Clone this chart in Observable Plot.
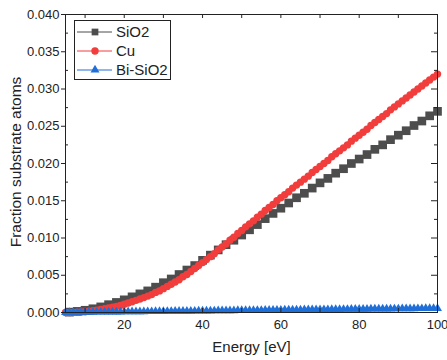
<!DOCTYPE html>
<html>
<head>
<meta charset="utf-8">
<script src="https://cdn.jsdelivr.net/npm/d3@7"></script>
<script src="https://cdn.jsdelivr.net/npm/@observablehq/plot@0.6"></script>
<style>
  html, body { margin: 0; padding: 0; background: #fff; }
  #chart { width: 447px; height: 360px; }
  #chart svg text { font-family: Arial, "Liberation Sans", Helvetica, sans-serif; }
</style>
</head>
<body>
<div id="chart"></div>
<script>
// Sputtering yield of substrate atoms vs. ion energy
const seriesNames = ["SiO2", "Cu", "Bi-SiO2"];
const seriesColors = ["#4d4d4d", "#f23d3d", "#1f6fd9"];

// SiO2: sampled every 2 eV
const energySiO2 = [6, 8, 10, 12, 14, 16, 18, 20, 22, 24, 26, 28, 30, 32, 34, 36, 38, 40,
  42, 44, 46, 48, 50, 52, 54, 56, 58, 60, 62, 64, 66, 68, 70, 72, 74, 76, 78, 80,
  82, 84, 86, 88, 90, 92, 94, 96, 98, 100];
const fracSiO2 = [0.00005, 0.00015, 0.0003, 0.0005, 0.00075, 0.00105, 0.00135, 0.0017,
  0.0021, 0.0025, 0.0029, 0.0034, 0.0040, 0.0045, 0.0051, 0.0057, 0.0063, 0.0070,
  0.0077, 0.0084, 0.0091, 0.0097, 0.0104, 0.0111, 0.0118, 0.0126, 0.0133, 0.0140,
  0.0147, 0.0154, 0.0160, 0.0167, 0.0174, 0.0180, 0.0187, 0.0193, 0.0200, 0.0206,
  0.0212, 0.0219, 0.0225, 0.0232, 0.0238, 0.0244, 0.0251, 0.0257, 0.0264, 0.0270];

// Cu and Bi-SiO2: sampled every 1 eV
const energyFine = [5, 6, 7, 8, 9, 10, 11, 12, 13, 14, 15, 16, 17, 18, 19, 20, 21, 22, 23, 24,
  25, 26, 27, 28, 29, 30, 31, 32, 33, 34, 35, 36, 37, 38, 39, 40, 41, 42, 43, 44,
  45, 46, 47, 48, 49, 50, 51, 52, 53, 54, 55, 56, 57, 58, 59, 60, 61, 62, 63, 64,
  65, 66, 67, 68, 69, 70, 71, 72, 73, 74, 75, 76, 77, 78, 79, 80, 81, 82, 83, 84,
  85, 86, 87, 88, 89, 90, 91, 92, 93, 94, 95, 96, 97, 98, 99, 100];
const fracCu = [0.0000, 0.0000, 0.00002, 0.00004, 0.00007, 0.0001, 0.00016, 0.00024, 0.00032, 0.00041,
  0.0005, 0.0006, 0.0007, 0.0008, 0.00095, 0.0011, 0.00127, 0.00145, 0.00163, 0.00181,
  0.0020, 0.0022, 0.0024, 0.0027, 0.0029, 0.0032, 0.0035, 0.0038, 0.0041, 0.0044,
  0.0048, 0.0051, 0.0055, 0.0059, 0.0063, 0.0067, 0.0071, 0.0075, 0.0079, 0.0084,
  0.0088, 0.0092, 0.0097, 0.0101, 0.0106, 0.0110, 0.0115, 0.0119, 0.0123, 0.0128,
  0.0132, 0.0137, 0.0141, 0.0145, 0.0150, 0.0154, 0.0158, 0.0162, 0.0167, 0.0171,
  0.0175, 0.0179, 0.0183, 0.0188, 0.0192, 0.0196, 0.0200, 0.0204, 0.0209, 0.0213,
  0.0217, 0.0221, 0.0225, 0.0230, 0.0234, 0.0238, 0.0242, 0.0246, 0.0251, 0.0255,
  0.0259, 0.0263, 0.0267, 0.0272, 0.0276, 0.0280, 0.0284, 0.0288, 0.0292, 0.0296,
  0.0300, 0.0304, 0.0308, 0.0312, 0.0316, 0.0320];
const fracBiSiO2 = [0.00002, 0.00002, 0.00003, 0.00003, 0.00004, 0.00004, 0.00005, 0.00005, 0.00006, 0.00006,
  0.00007, 0.00007, 0.00008, 0.00008, 0.00009, 0.00010, 0.00010, 0.00011, 0.00011, 0.00012,
  0.00012, 0.00013, 0.00013, 0.00014, 0.00015, 0.00015, 0.00016, 0.00016, 0.00017, 0.00018,
  0.00018, 0.00019, 0.00019, 0.00020, 0.00021, 0.00021, 0.00022, 0.00022, 0.00023, 0.00024,
  0.00024, 0.00025, 0.00025, 0.00026, 0.00027, 0.00027, 0.00028, 0.00028, 0.00029, 0.00030,
  0.00030, 0.00031, 0.00031, 0.00032, 0.00033, 0.00033, 0.00034, 0.00034, 0.00035, 0.00036,
  0.00036, 0.00037, 0.00037, 0.00038, 0.00039, 0.00039, 0.00040, 0.00040, 0.00041, 0.00042,
  0.00042, 0.00043, 0.00043, 0.00044, 0.00045, 0.00045, 0.00046, 0.00046, 0.00047, 0.00047,
  0.00048, 0.00048, 0.00049, 0.00049, 0.00050, 0.00050, 0.00051, 0.00051, 0.00052, 0.00052,
  0.00053, 0.00053, 0.00054, 0.00054, 0.00055, 0.00055];

// Axis ticks
const xTicks = [20, 40, 60, 80, 100];
const xTicksAll = [10, 20, 30, 40, 50, 60, 70, 80, 90, 100];
const yMajor = [0, 0.005, 0.010, 0.015, 0.020, 0.025, 0.030, 0.035, 0.040];
const yMinor = [0.0025, 0.0075, 0.0125, 0.0175, 0.0225, 0.0275, 0.0325, 0.0375];

const xLabel = "Energy [eV]";
const yLabel = "Fraction substrate atoms";

const sio2 = energySiO2.map((e, i) => ({e, v: fracSiO2[i]}));
const cu = energyFine.map((e, i) => ({e, v: fracCu[i]}));
const bisio2 = energyFine.map((e, i) => ({e, v: fracBiSiO2[i]}));

const W = 447, H = 360, mL = 65, mR = 10, mT = 14, mB = 48;
const frameW = W - mL - mR, frameH = H - mT - mB;
const font = "Arial, Liberation Sans, Helvetica, sans-serif";
const ink = "#222";

const symbols = ["square", "circle", "triangle"];
const radii = [4.9, 3.7, 3.3];          // plot markers
const legendRadii = [3.8, 3.7, 3.3];    // legend markers

const plot = Plot.plot({
  width: W,
  height: H,
  marginLeft: mL,
  marginRight: mR,
  marginTop: mT,
  marginBottom: mB,
  style: {fontFamily: font, fontSize: "13px", color: ink, background: "#fff", overflow: "visible"},
  x: {domain: [5, 100]},
  y: {domain: [0, 0.04]},
  marks: [
    // series: SiO2 first, then Cu, Bi-SiO2 on top
    Plot.line(sio2, {x: "e", y: "v", stroke: seriesColors[0], strokeWidth: 1}),
    Plot.dot(sio2, {x: "e", y: "v", symbol: symbols[0], r: radii[0], fill: seriesColors[0], stroke: "none"}),
    Plot.line(cu, {x: "e", y: "v", stroke: seriesColors[1], strokeWidth: 1}),
    Plot.dot(cu, {x: "e", y: "v", symbol: symbols[1], r: radii[1], fill: seriesColors[1], stroke: "none"}),
    Plot.line(bisio2, {x: "e", y: "v", stroke: seriesColors[2], strokeWidth: 1}),
    Plot.dot(bisio2, {x: "e", y: "v", symbol: symbols[2], r: radii[2], fill: seriesColors[2], stroke: "none"}),

    // left axis: major ticks outward with labels, minor ticks inward
    Plot.axisY({anchor: "left", ticks: yMajor, tickFormat: d3.format(".3f"), tickSize: 4, tickPadding: 2, label: null, stroke: ink, fill: ink, fontSize: 13, fontFamily: font}),
    Plot.ruleY(yMinor, {y: d => d, insetRight: frameW - 3, stroke: ink}),
    // right axis: inward ticks
    Plot.ruleY(yMajor, {y: d => d, insetLeft: frameW - 6, stroke: ink}),
    Plot.ruleY(yMinor, {y: d => d, insetLeft: frameW - 3, stroke: ink}),
    // bottom axis labels, inward ticks on bottom and top
    Plot.axisX({anchor: "bottom", ticks: xTicks, tickSize: 0, tickPadding: 7, label: null, fill: ink, fontSize: 13, fontFamily: font}),
    Plot.ruleX(xTicksAll, {x: d => d, insetTop: frameH - 4, stroke: ink}),
    Plot.ruleX(xTicksAll, {x: d => d, insetBottom: frameH - 4, stroke: ink}),

    Plot.frame({stroke: ink, strokeWidth: 1}),

    // axis titles
    Plot.text([xLabel], {frameAnchor: "bottom", dy: 39, fontSize: 15, fill: ink, fontFamily: font, textAnchor: "middle"}),
    Plot.text([yLabel], {frameAnchor: "left", dx: -49.5, dy: -1.5, rotate: -90, fontSize: 15.5, fill: ink, fontFamily: font, textAnchor: "middle"})
  ]
});

document.getElementById("chart").appendChild(plot);

// legend box in the upper-left corner of the frame
const svg = d3.select(plot);
const lg = svg.append("g")
  .attr("font-family", font)
  .attr("font-size", 15)
  .attr("text-anchor", "start");
lg.append("rect")
  .attr("x", 74.5).attr("y", 20.5).attr("width", 96).attr("height", 59)
  .attr("fill", "#fff").attr("stroke", ink).attr("stroke-width", 1);
const symbolTypes = [d3.symbolSquare, d3.symbolCircle, d3.symbolTriangle];
seriesNames.forEach((name, i) => {
  const cy = 32 + i * 19;
  lg.append("line")
    .attr("x1", 77).attr("x2", 112).attr("y1", cy).attr("y2", cy)
    .attr("stroke", seriesColors[i]).attr("stroke-width", 1);
  lg.append("path")
    .attr("transform", `translate(95,${cy})`)
    .attr("d", d3.symbol(symbolTypes[i], Math.PI * legendRadii[i] * legendRadii[i])())
    .attr("fill", seriesColors[i]);
  lg.append("text")
    .attr("x", 116).attr("y", cy).attr("dy", "0.35em")
    .attr("text-anchor", "start")
    .attr("fill", ink)
    .text(name);
});
</script>
</body>
</html>
